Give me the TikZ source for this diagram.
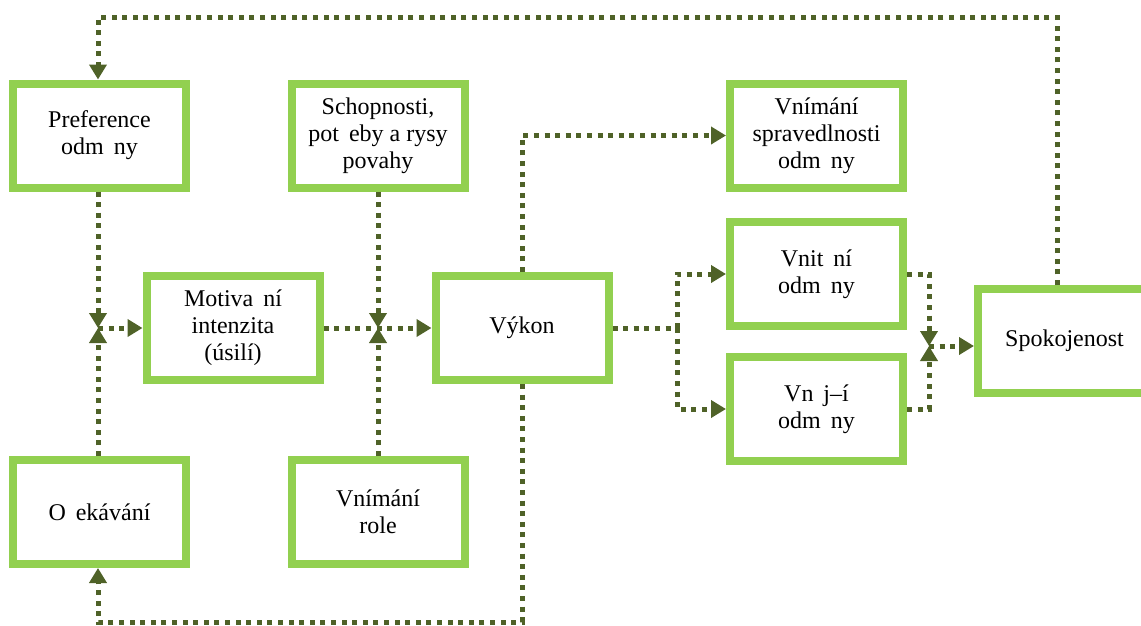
\documentclass[tikz,border=0pt]{standalone}
\usepackage{fontspec}
\setmainfont{Liberation Serif}
\usetikzlibrary{arrows.meta,calc}
\definecolor{boxgreen}{HTML}{92D050}
\definecolor{linkolive}{HTML}{4F6228}
\newcommand{\gp}{\hspace{10pt}}
\begin{document}
\begin{tikzpicture}[x=1pt,y=-1pt,
  box/.style={draw=boxgreen,line width=8pt,fill=white,minimum width=173pt,
    minimum height=104pt,inner sep=0pt,align=center,
    font=\fontsize{24}{27}\selectfont},
  link/.style={draw=linkolive,line width=5pt,dash pattern=on 5pt off 5.6pt},
  tip/.style={-{Triangle[width=17pt,length=15pt]}}]
\useasboundingbox (0,0) rectangle (1141,625);
\begin{scope}
\clip (0,0) rectangle (1141,625);
% boxes
\node[box] (pref)  at (99.5,135.5) {Preference\\odm\gp ny};
\node[box] (schop) at (378,135.5)  {Schopnosti,\\pot\gp eby a rysy\\povahy};
\node[box] (sprav) at (816.5,135.5){Vnímání\\spravedlnosti\\odm\gp ny};
\node[box] (motiv) at (233,328)    {Motiva\gp ní\\intenzita\\(úsilí)};
\node[box] (vykon) at (522,328)    {Výkon};
\node[box] (vnitr) at (816.5,274)  {Vnit\gp ní\\odm\gp ny};
\node[box] (vnejs) at (816.5,409)  {Vn\gp j–í\\odm\gp ny};
\node[box] (spok)  at (1064.5,341) {Spokojenost};
\node[box] (ocek)  at (99.5,512)   {O\gp ekávání};
\node[box] (role)  at (378,512)    {Vnímání\\role};
% junction and corner points
\coordinate (j1) at (98,328);
\coordinate (j2) at (378,328);
\coordinate (b1) at (677,328);
\coordinate (j3) at (929,346);
\coordinate (tr) at (1057,17);
\coordinate (tl) at (98,17);
\coordinate (bl) at (98,622);
% links into motivation
\draw[link,tip] (pref.south -| j1) -- (j1);
\draw[link,tip] (ocek.north -| j1) -- (j1);
\draw[link,tip] (j1) -- (motiv.west);
% motivation to performance
\draw[link,tip] (motiv.east) -- (vykon.west);
\draw[link,tip] (schop.south) -- (j2);
\draw[link,tip] (role.north) -- (j2);
% performance to rewards
\draw[link,tip] (vykon.north) |- (sprav.west);
\draw[link] (vykon.east) -- (b1);
\draw[link,tip] (b1) |- (vnitr.west);
\draw[link,tip] (b1) |- (vnejs.west);
% rewards to satisfaction
\draw[link,tip] (vnitr.east) -| (j3);
\draw[link,tip] (vnejs.east) -| (j3);
\draw[link,tip] (j3) -- (j3 -| spok.west);
% feedback loops
\draw[link,tip] (tr |- spok.north) -- (tr) -- (tl) -- (pref.north -| tl);
\draw[link,tip] (vykon.south) |- (bl) -- (ocek.south -| bl);
\end{scope}
\end{tikzpicture}
\end{document}
